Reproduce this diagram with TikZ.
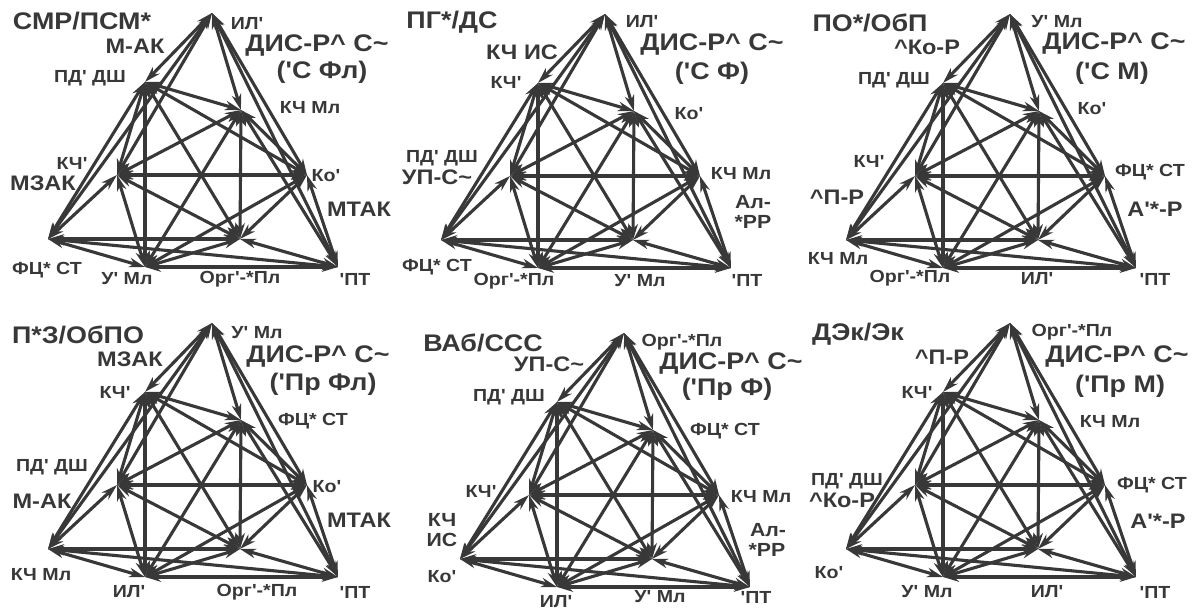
\documentclass[tikz,border=0pt]{standalone}
\usepackage{fontspec}
\newfontfamily\lf{Liberation Sans}[FakeStretch=1.12]
\usetikzlibrary{arrows.meta}
\definecolor{ink}{HTML}{383838}
\tikzset{
  edge/.style={draw=ink, line width=3.1pt,
    {Stealth[length=16pt,width=9.5pt,inset=5pt]}-{Stealth[length=16pt,width=9.5pt,inset=5pt]}},
  lab/.style={text=ink, inner sep=0pt, font=\lf\bfseries\fontsize{17.5}{18}\selectfont},
  mid/.style={text=ink, inner sep=0pt, font=\lf\bfseries\fontsize{21}{22}\selectfont},
  two/.style={text=ink, inner sep=0pt, font=\lf\bfseries\fontsize{19}{20}\selectfont},
  big/.style={text=ink, inner sep=0pt, font=\lf\bfseries\fontsize{24}{26}\selectfont},
}
\newcommand\drawpanel[3]{%
  \begin{scope}[shift={(#2,#3)}]
    \coordinate (#1A) at (212,13);
    \coordinate (#1B) at (145,82);
    \coordinate (#1C) at (241,110);
    \coordinate (#1D) at (117,175);
    \coordinate (#1E) at (307,175);
    \coordinate (#1F) at (48,239);
    \coordinate (#1G) at (240,239);
    \coordinate (#1H) at (145,267);
    \coordinate (#1I) at (338,267);
    \foreach \u/\v in {A/B,A/C,A/D,A/E,A/F,A/I,B/C,B/D,B/E,B/F,B/G,B/H,
      C/D,C/E,C/G,C/H,C/I,D/E,D/F,D/G,D/H,E/G,E/H,E/I,F/G,F/H,F/I,G/H,G/I,H/I}
      {\draw[edge] (#1\u) -- (#1\v);}
  \end{scope}}
\begin{document}
\begin{tikzpicture}[x=1pt,y=-1pt]
\fill[white] (0,0) rectangle (1199,610);
\useasboundingbox (0,0) rectangle (1199,610);

\drawpanel{p1}{0}{0}
\drawpanel{p2}{393}{1}
\drawpanel{p3}{798}{1}
\drawpanel{p4}{0}{310}
\drawpanel{p5}{412}{320}
\drawpanel{p6}{798}{310}

% Panel 1
\node[big] (t1) at (82,21) {СМР/ПСМ*};
\node[lab] (a1) at (247,24) {ИЛ'};
\node[mid] (s1a) at (135,46) {М-АК};
\node[big] (d1) at (317,46) {ДИС-Р\textasciicircum{} С\textasciitilde};
\node[big] (e1) at (322,72) {('С Фл)};
\node[lab] (b1) at (90,78) {ПД' ДШ};
\node[lab] (c1) at (310,108) {КЧ Мл};
\node[lab] (dd1) at (72,163) {КЧ'};
\node[mid] (s1b) at (43,183) {МЗАК};
\node[lab] (ee1) at (326,176) {Ко'};
\node[mid] (s1c) at (359,209) {МТАК};
\node[lab] (f1) at (47,270) {ФЦ* СТ};
\node[lab] (h1) at (127,279) {У' Мл};
\node[lab] (g1) at (240,279) {Орг'-*Пл};
\node[lab] (i1) at (355,279) {'ПТ};

% Panel 2
\node[big] (t2) at (452,22) {ПГ*/ДС};
\node[lab] (a2) at (642,22) {ИЛ'};
\node[mid] (s2a) at (522,52) {КЧ ИС};
\node[big] (d2) at (712,45) {ДИС-Р\textasciicircum{} С\textasciitilde};
\node[big] (e2) at (712,73) {('С Ф)};
\node[lab] (b2) at (506,82) {КЧ'};
\node[lab] (c2) at (689,114) {Ко'};
\node[lab] (dd2) at (442,158) {ПД' ДШ};
\node[mid] (s2b) at (437,177) {УП-С\textasciitilde};
\node[lab] (ee2) at (741,174) {КЧ Мл};
\node[two] (s2c) at (753,202) {Ал-};
\node[two] (s2d) at (753,222) {*РР};
\node[lab] (f2) at (437,267) {ФЦ* СТ};
\node[lab] (h2) at (514,281) {Орг'-*Пл};
\node[lab] (g2) at (640,281) {У' Мл};
\node[lab] (i2) at (747,280) {'ПТ};

% Panel 3
\node[big] (t3) at (870,23) {ПО*/ОбП};
\node[lab] (a3) at (1057,22) {У' Мл};
\node[mid] (s3a) at (927,47) {\textasciicircum Ко-Р};
\node[big] (d3) at (1114,44) {ДИС-Р\textasciicircum{} С\textasciitilde};
\node[big] (e3) at (1112,73) {('С М)};
\node[lab] (b3) at (894,80) {ПД' ДШ};
\node[lab] (c3) at (1092,109) {Ко'};
\node[lab] (dd3) at (869,161) {КЧ'};
\node[lab] (ee3) at (1150,172) {ФЦ* СТ};
\node[mid] (s3b) at (837,197) {\textasciicircum П-Р};
\node[mid] (s3c) at (1155,209) {А'*-Р};
\node[lab] (f3) at (838,259) {КЧ Мл};
\node[lab] (h3) at (910,278) {Орг'-*Пл};
\node[lab] (g3) at (1037,279) {ИЛ'};
\node[lab] (i3) at (1155,279) {'ПТ};

% Panel 4
\node[big] (t4) at (78,335) {П*З/ОбПО};
\node[lab] (a4) at (257,333) {У' Мл};
\node[mid] (s4a) at (130,359) {МЗАК};
\node[big] (d4) at (318,357) {ДИС-Р\textasciicircum{} С\textasciitilde};
\node[big] (e4) at (323,384) {('Пр Фл)};
\node[lab] (b4) at (115,392) {КЧ'};
\node[lab] (c4) at (313,421) {ФЦ* СТ};
\node[lab] (dd4) at (52,467) {ПД' ДШ};
\node[mid] (s4b) at (42,501) {М-АК};
\node[lab] (ee4) at (327,487) {Ко'};
\node[mid] (s4c) at (359,520) {МТАК};
\node[lab] (f4) at (41,575) {КЧ Мл};
\node[lab] (h4) at (129,592) {ИЛ'};
\node[lab] (g4) at (257,592) {Орг'-*Пл};
\node[lab] (i4) at (355,592) {'ПТ};

% Panel 5
\node[big] (t5) at (483,343) {ВАб/ССС};
\node[lab] (a5) at (682,342) {Орг'-*Пл};
\node[mid] (s5a) at (549,364) {УП-С\textasciitilde};
\node[big] (d5) at (731,364) {ДИС-Р\textasciicircum{} С\textasciitilde};
\node[big] (e5) at (727,389) {('Пр Ф)};
\node[lab] (b5) at (509,397) {ПД' ДШ};
\node[lab] (c5) at (725,431) {ФЦ* СТ};
\node[lab] (dd5) at (481,491) {КЧ'};
\node[lab] (ee5) at (761,497) {КЧ Мл};
\node[two] (s5b) at (442,520) {КЧ};
\node[two] (s5c) at (442,540) {ИС};
\node[two] (s5d) at (768,530) {Ал-};
\node[two] (s5e) at (767,550) {*РР};
\node[lab] (f5) at (442,577) {Ко'};
\node[lab] (h5) at (556,602) {ИЛ'};
\node[lab] (g5) at (660,597) {У' Мл};
\node[lab] (i5) at (756,597) {'ПТ};

% Panel 6
\node[big] (t6) at (858,334) {ДЭк/Эк};
\node[lab] (a6) at (1072,332) {Орг'-*Пл};
\node[mid] (s6a) at (942,357) {\textasciicircum П-Р};
\node[big] (d6) at (1117,357) {ДИС-Р\textasciicircum{} С\textasciitilde};
\node[big] (e6) at (1120,386) {('Пр М)};
\node[lab] (b6) at (917,392) {КЧ'};
\node[lab] (c6) at (1110,422) {КЧ Мл};
\node[lab] (dd6) at (847,481) {ПД' ДШ};
\node[mid] (s6b) at (842,500) {\textasciicircum Ко-Р};
\node[lab] (ee6) at (1152,485) {ФЦ* СТ};
\node[mid] (s6c) at (1158,521) {А'*-Р};
\node[lab] (f6) at (829,573) {Ко'};
\node[lab] (h6) at (927,592) {У' Мл};
\node[lab] (g6) at (1047,592) {ИЛ'};
\node[lab] (i6) at (1155,592) {'ПТ};
\end{tikzpicture}
\end{document}
